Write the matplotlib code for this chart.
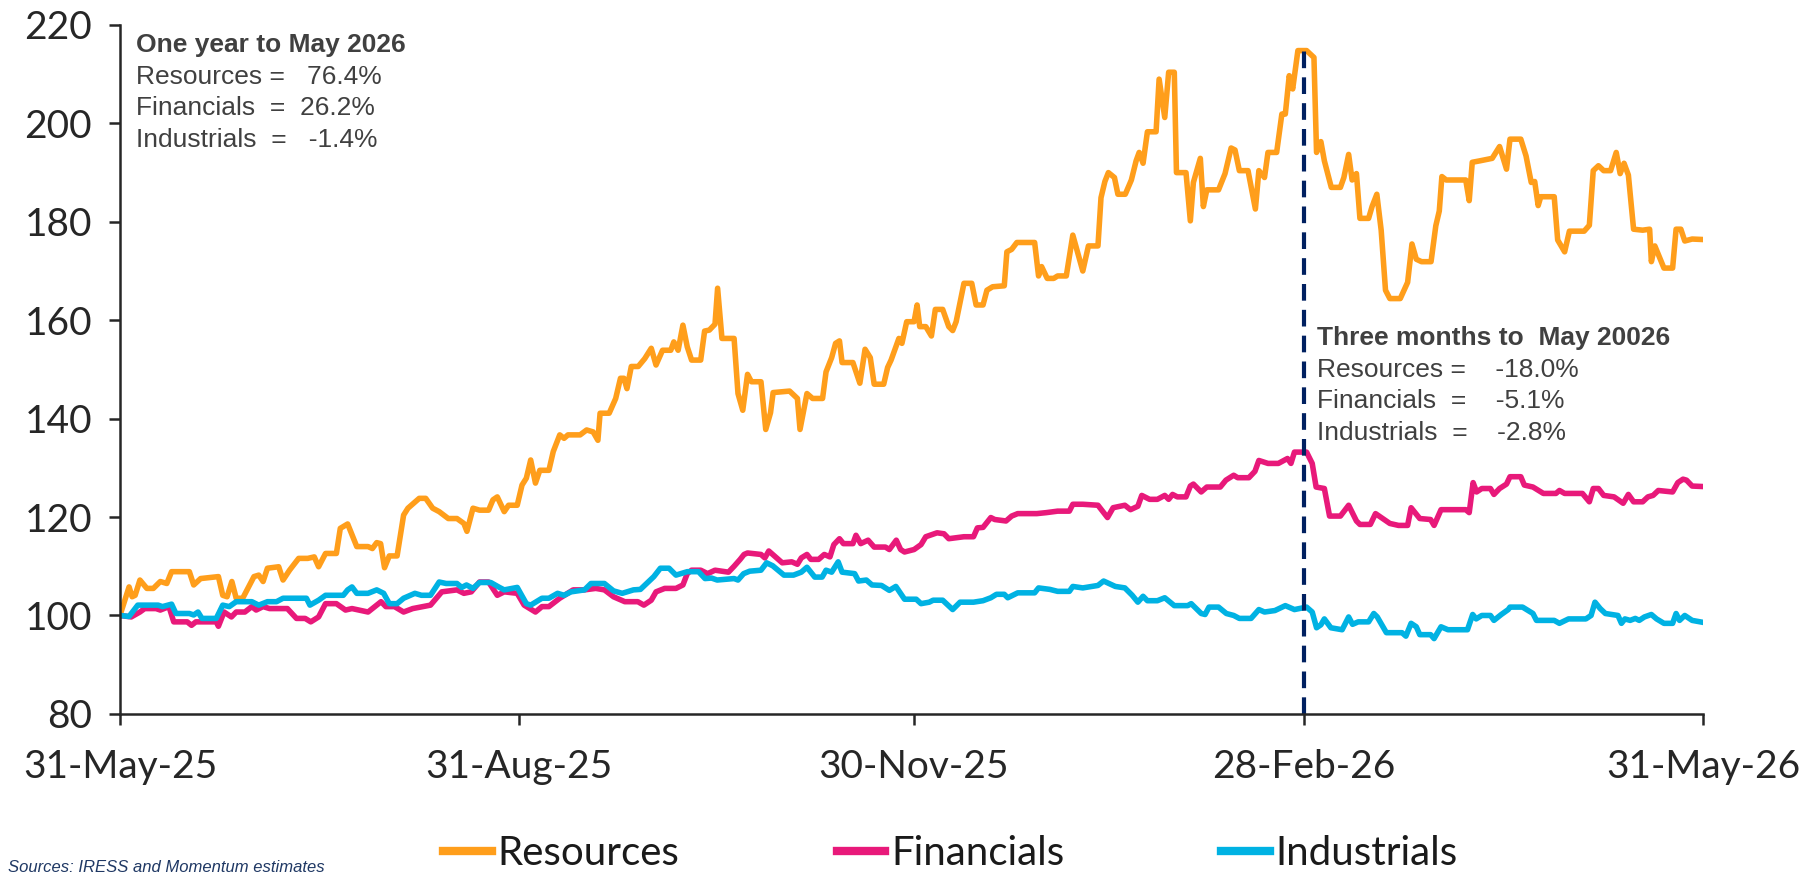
import numpy as np
import pandas as pd
import matplotlib
matplotlib.use('Agg')
import matplotlib.pyplot as plt
import matplotlib.dates as mdates

START = pd.Timestamp('2025-05-31')

# day offsets from 31-May-25 and index levels (start = 100)
res_days = [0, 2.1, 2.8, 3.5, 4.6, 6.2, 7.7, 9.3, 10.8, 11.9, 16.0, 17.0, 18.6, 22.7, 23.7, 24.7,
            25.8, 26.8, 28.3, 30.9, 32.0, 33.0, 34.0, 36.6, 37.6, 39.1, 41.2, 43.3, 44.8, 45.8,
            47.4, 49.9, 50.8, 52.5, 54.6, 57.2, 58.2, 59.2, 60.1, 61.0, 62.1, 63.9, 65.4, 66.4,
            69.0, 70.5, 72.1, 73.6, 75.7, 77.7, 79.3, 80.0, 81.4, 82.9, 85.0, 86.0, 87.0, 88.6,
            89.6, 91.6, 92.7, 93.7, 94.7, 95.8, 96.8, 98.9, 99.9, 101.4, 102.4, 103.3, 106.1,
            107.6, 109.1, 110.2, 110.7, 112.8, 114.3, 115.4, 116.2, 116.9, 117.9, 119.5, 121.0,
            122.5, 123.6, 125.1, 127.0, 127.7, 128.7, 129.8, 130.8, 131.8, 133.9, 134.8, 135.9,
            137.2, 137.8, 138.8, 141.6, 142.5, 143.6, 144.7, 145.6, 147.8, 148.9, 150.0, 150.6,
            154.4, 156.2, 156.8, 158.4, 159.7, 162.0, 162.8, 164.1, 165.0, 165.9, 166.5, 169.0,
            170.6, 171.8, 173.0, 173.9, 176.1, 177.0, 177.8, 179.6, 180.3, 181.4, 183.1, 183.8,
            184.4, 185.8, 187.1, 188.0, 189.7, 191.1, 192.0, 192.8, 194.6, 196.4, 197.4, 199.0,
            199.9, 201.2, 203.9, 204.5, 205.6, 206.8, 210.9, 211.8, 212.5, 213.8, 215.3, 216.2,
            218.2, 219.7, 222.0, 223.3, 225.5, 226.2, 227.1, 227.9, 229.3, 230.1, 231.8, 233.2,
            234.3, 235.0, 235.9, 236.9, 238.9, 239.6, 240.9, 241.8, 243.1, 243.6, 245.8, 246.8,
            247.5, 249.1, 249.8, 250.6, 253.3, 254.8, 256.2, 257.1, 258.1, 260.1, 261.8, 262.6,
            263.9, 264.7, 266.7, 267.9, 268.7, 269.6, 270.4, 271.6, 273.6, 275.3, 275.9, 276.9,
            277.7, 279.3, 281.4, 282.2, 283.3, 284.1, 285.1, 285.9, 287.9, 288.7, 289.8, 290.8,
            291.8, 292.8, 295.2, 296.9, 297.9, 298.9, 300.1, 302.3, 303.4, 304.2, 304.8, 305.8,
            310.3, 311.1, 311.8, 313.6, 316.4, 318.1, 319.7, 320.5, 323.0, 324.2, 325.4, 326.2,
            327.0, 327.6, 330.7, 331.5, 333.1, 334.2, 337.6, 338.8, 339.7, 340.9, 342.1, 343.7,
            345.0, 345.9, 346.8, 347.8, 349.0, 351.1, 352.7, 353.1, 353.9, 356.0, 358.0, 358.8,
            359.9, 360.8, 362.5, 365.0]
res_vals = [100.0, 105.8, 103.8, 104.1, 107.2, 105.5, 105.5, 106.9, 106.5, 108.9, 108.9, 106.2,
            107.5, 107.9, 104.1, 103.8, 106.9, 103.5, 103.5, 107.9, 108.2, 106.9, 109.6, 109.9,
            107.2, 109.2, 111.6, 111.6, 111.9, 109.9, 112.6, 112.6, 117.7, 118.6, 114.0, 114.0,
            113.6, 114.8, 114.6, 109.7, 112.1, 112.1, 120.4, 121.8, 123.8, 123.8, 121.8, 121.1,
            119.7, 119.7, 118.7, 117.1, 121.8, 121.4, 121.4, 123.5, 124.1, 121.1, 122.4, 122.4,
            126.5, 127.9, 131.6, 126.9, 129.5, 129.5, 133.3, 136.7, 136.0, 136.7, 136.7, 137.7,
            137.3, 135.6, 141.1, 141.1, 144.1, 148.2, 148.2, 146.1, 150.6, 150.6, 152.2, 154.3,
            150.9, 153.9, 153.9, 155.6, 153.9, 159.0, 154.6, 151.9, 151.9, 157.8, 158.0, 159.2,
            166.5, 156.3, 156.3, 145.1, 141.7, 149.0, 147.5, 147.5, 137.8, 141.2, 145.3, 145.6,
            144.1, 137.8, 145.1, 144.1, 144.1, 149.5, 152.4, 155.3, 155.8, 151.4, 151.4, 147.2,
            154.1, 152.4, 147.0, 147.0, 150.4, 151.9, 156.3, 155.3, 159.7, 159.7, 163.1, 158.7,
            158.7, 156.8, 162.2, 162.2, 158.7, 157.9, 159.7, 167.5, 167.5, 163.1, 163.1, 166.1,
            166.8, 167.0, 173.9, 174.4, 175.8, 175.8, 169.0, 170.9, 168.5, 168.5, 169.0, 169.0,
            177.3, 170.0, 175.1, 175.1, 184.9, 188.2, 190.0, 189.0, 185.6, 185.6, 188.5, 192.4,
            194.1, 191.9, 198.3, 198.3, 209.0, 201.2, 210.4, 210.4, 190.0, 190.0, 180.2, 188.0,
            192.9, 183.1, 186.5, 186.5, 189.8, 195.0, 194.6, 190.4, 190.4, 182.6, 190.4, 189.0,
            194.1, 194.1, 201.9, 201.9, 209.7, 207.0, 214.8, 214.8, 213.4, 194.1, 196.3, 192.4,
            187.0, 187.0, 189.0, 193.7, 188.5, 189.8, 180.7, 180.7, 183.1, 185.6, 178.3, 166.1,
            164.4, 164.4, 167.7, 175.5, 172.4, 171.9, 171.9, 179.2, 182.2, 189.2, 188.5, 188.5,
            184.3, 192.1, 192.4, 192.9, 195.3, 190.7, 196.8, 196.8, 193.4, 188.0, 188.2, 183.3,
            185.1, 185.1, 176.3, 173.9, 178.1, 178.1, 179.3, 190.4, 191.4, 190.4, 190.4, 194.1,
            189.8, 191.9, 189.5, 178.5, 178.3, 178.5, 171.9, 175.1, 170.6, 170.6, 178.5, 178.5,
            176.1, 176.5, 176.4]

fin_days = [0, 2.6, 4.6, 5.7, 8.3, 9.3, 11.3, 12.4, 15.5, 16.5, 17.5, 22.2, 22.7, 24.0, 25.7,
            26.8, 28.8, 30.4, 31.4, 33.0, 34.5, 38.6, 40.7, 42.7, 44.0, 45.8, 47.4, 49.9, 52.0,
            53.5, 57.2, 60.2, 61.3, 63.3, 65.4, 67.5, 71.6, 74.2, 77.7, 79.3, 81.0, 82.9, 85.0,
            87.0, 88.6, 91.6, 93.2, 95.8, 97.3, 98.9, 101.4, 104.5, 107.1, 109.7, 111.7, 113.8,
            116.4, 119.4, 120.8, 122.5, 123.6, 125.6, 128.2, 129.8, 130.8, 131.8, 133.9, 135.5,
            137.2, 140.3, 141.6, 143.0, 143.9, 144.7, 147.8, 148.7, 149.6, 150.9, 152.7, 154.9,
            156.2, 157.1, 158.4, 159.3, 161.1, 162.4, 163.7, 164.6, 165.9, 166.8, 169.0, 169.7,
            170.8, 172.5, 173.9, 176.5, 177.4, 179.0, 180.0, 180.9, 183.1, 184.7, 185.8, 188.4,
            190.0, 191.1, 194.6, 196.8, 197.7, 199.0, 200.8, 201.7, 204.3, 205.6, 207.0, 211.4,
            213.6, 216.2, 218.9, 219.7, 222.0, 225.5, 227.7, 229.0, 231.7, 233.0, 234.7, 235.6,
            237.4, 239.2, 240.9, 241.8, 242.7, 243.8, 245.8, 246.8, 247.5, 249.3, 250.6, 253.7,
            255.0, 256.8, 257.7, 260.3, 261.7, 262.6, 264.7, 267.1, 269.2, 270.0, 270.8, 273.6,
            274.9, 275.8, 277.7, 278.9, 281.4, 283.3, 285.1, 285.9, 288.3, 289.5, 292.8, 294.8,
            296.9, 297.7, 299.7, 302.2, 303.0, 304.6, 310.3, 311.1, 312.0, 312.8, 314.0, 316.0,
            316.8, 318.1, 319.7, 320.5, 323.0, 323.8, 325.8, 328.2, 331.1, 331.9, 333.1, 337.2,
            338.8, 339.7, 340.9, 342.1, 344.5, 346.6, 347.8, 349.0, 351.1, 352.3, 353.5, 354.7,
            358.0, 359.2, 360.4, 361.2, 362.5, 365.0]
fin_vals = [100.0, 99.7, 100.7, 101.4, 101.4, 101.1, 101.8, 98.7, 98.7, 98.0, 98.7, 98.7, 97.8,
            100.7, 99.7, 100.7, 100.7, 101.8, 101.1, 101.8, 101.4, 101.4, 99.4, 99.4, 98.7, 99.7,
            102.4, 102.4, 101.1, 101.4, 100.7, 102.8, 101.8, 101.8, 100.7, 101.4, 102.1, 104.8,
            105.2, 104.5, 104.8, 106.8, 106.8, 104.1, 104.8, 104.5, 102.1, 100.7, 101.8, 101.8,
            103.5, 105.2, 105.2, 105.5, 105.2, 103.8, 102.8, 102.8, 102.1, 103.1, 104.8, 105.5,
            105.5, 106.2, 108.5, 109.2, 109.2, 108.5, 109.2, 108.8, 110.0, 111.4, 112.4, 112.7,
            112.4, 111.7, 113.1, 112.1, 110.7, 110.9, 110.4, 111.7, 112.4, 111.4, 111.4, 112.4,
            111.9, 114.4, 115.6, 114.6, 114.6, 116.3, 114.6, 115.3, 113.9, 113.9, 113.4, 115.3,
            113.4, 112.9, 113.4, 114.4, 116.0, 116.8, 116.6, 115.6, 116.0, 116.0, 117.8, 117.9,
            119.9, 119.5, 119.2, 120.2, 120.7, 120.7, 120.9, 121.2, 121.2, 122.6, 122.6, 122.4,
            119.9, 121.9, 122.4, 121.5, 122.2, 124.4, 123.6, 123.6, 124.4, 123.6, 124.6, 124.1,
            124.1, 126.3, 126.7, 125.1, 126.1, 126.1, 127.5, 128.5, 128.0, 128.0, 129.3, 131.5,
            130.9, 130.9, 131.9, 130.9, 133.2, 133.2, 130.9, 126.1, 125.8, 120.2, 120.2, 122.4,
            119.2, 118.5, 118.5, 120.7, 118.7, 118.3, 118.3, 121.9, 119.7, 119.5, 118.3, 121.5,
            121.5, 120.9, 127.0, 125.1, 125.8, 125.8, 124.6, 125.8, 126.7, 128.2, 128.2, 126.5,
            126.1, 124.8, 124.8, 125.4, 124.8, 124.8, 123.1, 125.8, 125.8, 124.4, 124.1, 122.8,
            124.6, 123.1, 123.1, 124.1, 124.4, 125.4, 125.1, 127.0, 127.7, 127.5, 126.3, 126.2]

ind_days = [0, 2.1, 4.1, 5.7, 8.8, 9.8, 11.9, 12.9, 16.0, 17.0, 18.0, 18.9, 22.2, 23.7, 25.2,
            26.8, 30.4, 32.0, 34.0, 36.1, 37.6, 43.0, 43.8, 45.8, 47.4, 51.5, 52.5, 53.5, 54.6,
            57.2, 59.2, 60.8, 62.1, 63.9, 65.4, 68.0, 69.5, 71.6, 73.6, 75.2, 77.7, 78.8, 79.9,
            81.4, 82.9, 85.5, 87.5, 88.6, 91.6, 93.7, 94.7, 97.3, 98.9, 100.9, 102.4, 104.0,
            107.1, 108.6, 111.7, 113.8, 115.8, 118.4, 120.0, 123.1, 124.6, 126.6, 128.2, 130.8,
            133.4, 134.9, 136.4, 137.7, 141.6, 142.5, 143.8, 145.2, 147.8, 149.1, 150.5, 153.1,
            155.3, 157.1, 158.4, 160.2, 161.9, 162.8, 164.1, 165.6, 166.5, 169.4, 170.3, 172.1,
            173.4, 175.6, 177.4, 178.9, 180.9, 183.6, 184.7, 186.6, 187.5, 189.7, 192.0, 193.7,
            196.8, 199.0, 200.8, 202.1, 203.9, 204.7, 207.0, 210.9, 211.8, 214.4, 216.2, 218.9,
            219.7, 222.0, 225.5, 226.8, 229.5, 231.7, 233.4, 234.7, 235.9, 236.9, 239.2, 240.9,
            243.1, 246.2, 247.0, 249.3, 250.2, 251.1, 253.3, 255.1, 256.8, 258.1, 260.8, 262.6,
            263.9, 266.3, 268.7, 270.8, 273.6, 274.9, 275.9, 276.9, 277.7, 279.2, 281.8, 283.3,
            284.2, 285.5, 287.9, 289.1, 289.9, 292.0, 295.6, 296.5, 297.7, 298.9, 299.7, 302.2,
            303.0, 304.6, 306.2, 310.7, 311.9, 312.7, 314.0, 316.0, 316.8, 318.5, 320.1, 320.5,
            323.4, 325.8, 326.6, 330.7, 331.9, 334.0, 338.0, 339.2, 340.1, 341.3, 342.5, 345.4,
            346.2, 347.0, 348.2, 349.4, 350.3, 351.5, 353.1, 354.3, 356.0, 358.0, 358.8, 359.6,
            360.8, 362.5, 365.0]
ind_vals = [100.0, 99.8, 102.1, 102.1, 102.1, 101.8, 102.3, 100.4, 100.4, 100.1, 100.7, 99.4,
            99.4, 102.1, 101.8, 102.8, 102.8, 102.1, 102.8, 102.8, 103.5, 103.5, 102.1, 103.1,
            104.1, 104.1, 105.2, 105.8, 104.5, 104.5, 105.2, 104.5, 102.4, 102.4, 103.5, 104.5,
            104.1, 104.1, 106.8, 106.5, 106.5, 105.7, 106.2, 105.5, 106.7, 106.7, 105.7, 105.2,
            105.7, 102.4, 102.1, 103.5, 103.5, 104.5, 104.1, 104.8, 105.2, 106.5, 106.5, 105.0,
            104.5, 105.2, 105.3, 107.9, 109.6, 109.6, 108.2, 108.9, 108.9, 107.5, 107.6, 107.2,
            107.5, 107.2, 108.5, 109.0, 109.2, 110.7, 110.1, 108.2, 108.2, 108.8, 109.8, 107.8,
            107.8, 109.2, 108.8, 110.9, 108.8, 108.5, 107.0, 107.2, 106.2, 106.1, 105.1, 105.9,
            103.3, 103.3, 102.4, 102.7, 103.1, 103.1, 101.2, 102.7, 102.7, 103.0, 103.6, 104.3,
            104.3, 103.6, 104.6, 104.6, 105.6, 105.3, 104.9, 104.9, 105.9, 105.6, 106.1, 107.0,
            105.9, 105.6, 104.1, 102.7, 103.9, 103.0, 103.0, 103.6, 102.0, 102.0, 102.4, 100.4,
            100.2, 101.7, 101.7, 100.4, 100.0, 99.4, 99.4, 101.2, 100.7, 101.0, 102.0, 101.2,
            101.7, 100.7, 97.5, 98.1, 99.3, 97.5, 97.1, 99.7, 98.2, 98.7, 98.7, 100.4, 99.7,
            96.5, 96.5, 95.8, 98.4, 97.7, 96.1, 96.1, 95.3, 97.7, 97.1, 97.1, 100.2, 99.3, 100.0,
            100.0, 99.0, 100.2, 101.2, 101.7, 101.7, 100.4, 99.0, 99.0, 98.4, 99.3, 99.3, 100.0,
            102.7, 101.4, 100.4, 100.0, 98.4, 99.3, 99.0, 99.4, 99.0, 99.7, 100.2, 99.3, 98.4,
            98.4, 100.4, 99.0, 100.0, 99.0, 98.6]

tick_dates = ['2025-05-31', '2025-08-31', '2025-11-30', '2026-02-28', '2026-05-31']
tick_labels = ['31-May-25', '31-Aug-25', '30-Nov-25', '28-Feb-26', '31-May-26']
marker_date = '2026-02-28'
marker_top = 214.8

one_year = ['One year to May 2026', 'Resources =   76.4%', 'Financials  =  26.2%',
            'Industrials  =   -1.4%']
three_month = ['Three months to  May 20026', 'Resources =    -18.0%', 'Financials  =    -5.1%',
               'Industrials  =    -2.8%']

ORANGE = '#FF9E1B'
PINK = '#E8197A'
CYAN = '#00B2E3'
NAVY = '#002060'
GREY = '#404040'


def to_x(days):
    return mdates.date2num(START) + np.array(days)


fig = plt.figure(figsize=(18.04, 8.77), dpi=100)
ax = fig.add_axes([0.0665, 0.186, 0.8775, 0.7855])

ax.plot(to_x(res_days), res_vals, color=ORANGE, lw=4, label='Resources')
ax.plot(to_x(fin_days), fin_vals, color=PINK, lw=4, label='Financials')
ax.plot(to_x(ind_days), ind_vals, color=CYAN, lw=4, label='Industrials')

mx = mdates.date2num(pd.Timestamp(marker_date))
ax.plot([mx, mx], [80, marker_top], color=NAVY, lw=3, dashes=(4, 2.2))

ax.set_xlim(mdates.date2num(pd.Timestamp(tick_dates[0])), mdates.date2num(pd.Timestamp(tick_dates[-1])))
ax.set_ylim(80, 220)
ax.set_yticks(np.arange(80, 221, 20))
ax.set_xticks([mdates.date2num(pd.Timestamp(d)) for d in tick_dates])
ax.set_xticklabels(tick_labels)

for s in ['top', 'right']:
    ax.spines[s].set_visible(False)
for s in ['left', 'bottom']:
    ax.spines[s].set_linewidth(1.8)
    ax.spines[s].set_color('#262626')
ax.tick_params(axis='both', direction='out', length=8, width=1.8, color='#262626',
               labelcolor='#262626', labelsize=28)
ax.tick_params(axis='y', pad=12)
ax.tick_params(axis='x', pad=17)
for lab in ax.get_xticklabels() + ax.get_yticklabels():
    lab.set_family('Lato')

# annotation boxes, one text per line
for i, line in enumerate(one_year):
    fig.text(136 / 1804, 1 - (33 + i * 31.7) / 877, line, fontsize=19, color=GREY, va='top',
             family='Liberation Sans', fontweight='bold' if i == 0 else 'normal')
for i, line in enumerate(three_month):
    fig.text(1317 / 1804, 1 - (326 + i * 31.7) / 877, line, fontsize=19, color=GREY, va='top',
             family='Liberation Sans', fontweight='bold' if i == 0 else 'normal')

leg = fig.legend(loc='center', bbox_to_anchor=(0.527, 0.027), ncol=3, frameon=False,
                 prop={'family': 'Lato', 'size': 29}, handlelength=1.2, handletextpad=0.15,
                 columnspacing=3.9, borderpad=0.1)
for h in leg.get_lines():
    h.set_linewidth(6)
for t in leg.get_texts():
    t.set_color('#1a1a1a')

fig.text(8 / 1804, 2 / 877, 'Sources: IRESS and Momentum estimates', fontsize=12,
         style='italic', color='#1F3864', va='bottom', family='Liberation Sans')

fig.savefig('out.png', dpi=100)
